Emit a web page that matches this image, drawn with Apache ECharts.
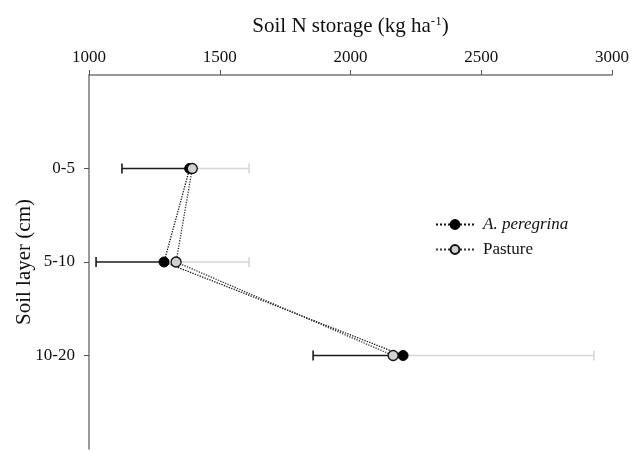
<!DOCTYPE html>
<html>
<head>
<meta charset="utf-8">
<script src="https://cdn.jsdelivr.net/npm/echarts@6/dist/echarts.min.js"></script>
<style>
html,body{margin:0;padding:0;background:#fff;}
#chart{width:632px;height:450px;}
</style>
</head>
<body>
<div id="chart"></div>
<script>
var categories = ['', '0-5', '5-10', '10-20', ''];
var layers = ['0-5', '5-10', '10-20'];
var xTicks = [1000, 1500, 2000, 2500, 3000];
var peregrinaValues = [1385, 1287, 2201];
var peregrinaErrors = [259, 260, 344];
var pastureValues = [1395, 1333, 2163];
var pastureErrors = [217, 279, 768];

var FONT = 'Liberation Serif';
var chart = echarts.init(document.getElementById('chart'));

function errData(vals, errs, dir) {
  return layers.map(function (l, i) {
    var v = vals[i], e = errs[i];
    return dir < 0 ? [v - e, v, l] : [v, v + e, l];
  });
}

function errSeries(name, vals, errs, dir, color) {
  return {
    type: 'custom',
    name: name + ' err',
    z: 1,
    silent: true,
    encode: { x: [0, 1], y: 2 },
    data: errData(vals, errs, dir),
    renderItem: function (params, api) {
      var y = api.value(2);
      var p1 = api.coord([api.value(0), y]);
      var p2 = api.coord([api.value(1), y]);
      var cap = 5;
      var capX = dir < 0 ? p1[0] : p2[0];
      return {
        type: 'group',
        children: [
          { type: 'line', shape: { x1: p1[0], y1: p1[1], x2: p2[0], y2: p2[1] },
            style: { stroke: color, lineWidth: 1.6 } },
          { type: 'line', shape: { x1: capX, y1: p1[1] - cap, x2: capX, y2: p1[1] + cap },
            style: { stroke: color, lineWidth: 1.6 } }
        ]
      };
    }
  };
}

var option = {
  animation: false,
  backgroundColor: '#fff',
  textStyle: { fontFamily: FONT },
  grid: { left: 89, right: 20, top: 75, bottom: 1, containLabel: false, outerBoundsMode: 'none' },
  legend: {
    data: ['A. peregrina', 'Pasture'],
    orient: 'vertical',
    left: 435,
    top: 216,
    padding: 0,
    itemWidth: 38,
    itemHeight: 11,
    itemGap: 8,
    textStyle: { fontFamily: FONT, fontSize: 17, color: '#111', padding: [0, 0, 0, 4],
      rich: { i: { fontStyle: 'italic', fontFamily: FONT, fontSize: 17, color: '#111' } } },
    formatter: function (n) { return n === 'A. peregrina' ? '{i|' + n + '}' : n; }
  },
  xAxis: {
    type: 'value',
    position: 'top',
    min: 1000, max: 3000, interval: 500,
    name: '{a|Soil N storage (kg ha}{s|-1}{a|)}',
    nameLocation: 'middle',
    nameGap: 37,
    nameTextStyle: {
      rich: {
        a: { fontFamily: FONT, fontSize: 21, color: '#111' },
        s: { fontFamily: FONT, fontSize: 13, color: '#111', verticalAlign: 'top', padding: [0, 0, 10, 0] }
      }
    },
    axisLine: { show: true, lineStyle: { color: '#777', width: 1.5 } },
    axisTick: { show: true, inside: false, length: 5, lineStyle: { color: '#555', width: 1 } },
    axisLabel: { fontFamily: FONT, fontSize: 17, color: '#111', margin: 9,
      formatter: function (v) { return xTicks.indexOf(v) >= 0 ? String(v) : ''; } },
    splitLine: { show: false }
  },
  yAxis: {
    type: 'category',
    data: categories,
    inverse: true,
    boundaryGap: false,
    name: 'Soil layer (cm)',
    nameLocation: 'middle',
    nameGap: 54,
    nameMoveOverlap: false,
    nameRotate: 90,
    nameTextStyle: { fontFamily: FONT, fontSize: 21, color: '#111' },
    axisLine: { show: true, lineStyle: { color: '#777', width: 1.5 } },
    axisTick: { show: true, length: 5, lineStyle: { color: '#555' },
      interval: function (idx, val) { return val !== ''; } },
    axisLabel: { fontFamily: FONT, fontSize: 17, color: '#111', margin: 14 },
    splitLine: { show: false }
  },
  series: [
    errSeries('Pasture', pastureValues, pastureErrors, 1, '#d6d6d6'),
    errSeries('A. peregrina', peregrinaValues, peregrinaErrors, -1, '#1a1a1a'),
    {
      name: 'Pasture',
      type: 'line',
      z: 3,
      data: layers.map(function (l, i) { return [pastureValues[i], l]; }),
      symbol: 'circle',
      symbolSize: 10,
      itemStyle: { color: '#d0d0d0', borderColor: '#111', borderWidth: 1.3 },
      lineStyle: { type: 'dotted', color: '#333', width: 1.3 }
    },
    {
      name: 'A. peregrina',
      type: 'line',
      z: 2,
      data: layers.map(function (l, i) { return [peregrinaValues[i], l]; }),
      symbol: 'circle',
      symbolSize: 10,
      itemStyle: { color: '#000', borderColor: '#000', borderWidth: 1 },
      lineStyle: { type: 'dotted', color: '#111', width: 1.3 }
    }
  ]
};
chart.setOption(option);
</script>
</body>
</html>
